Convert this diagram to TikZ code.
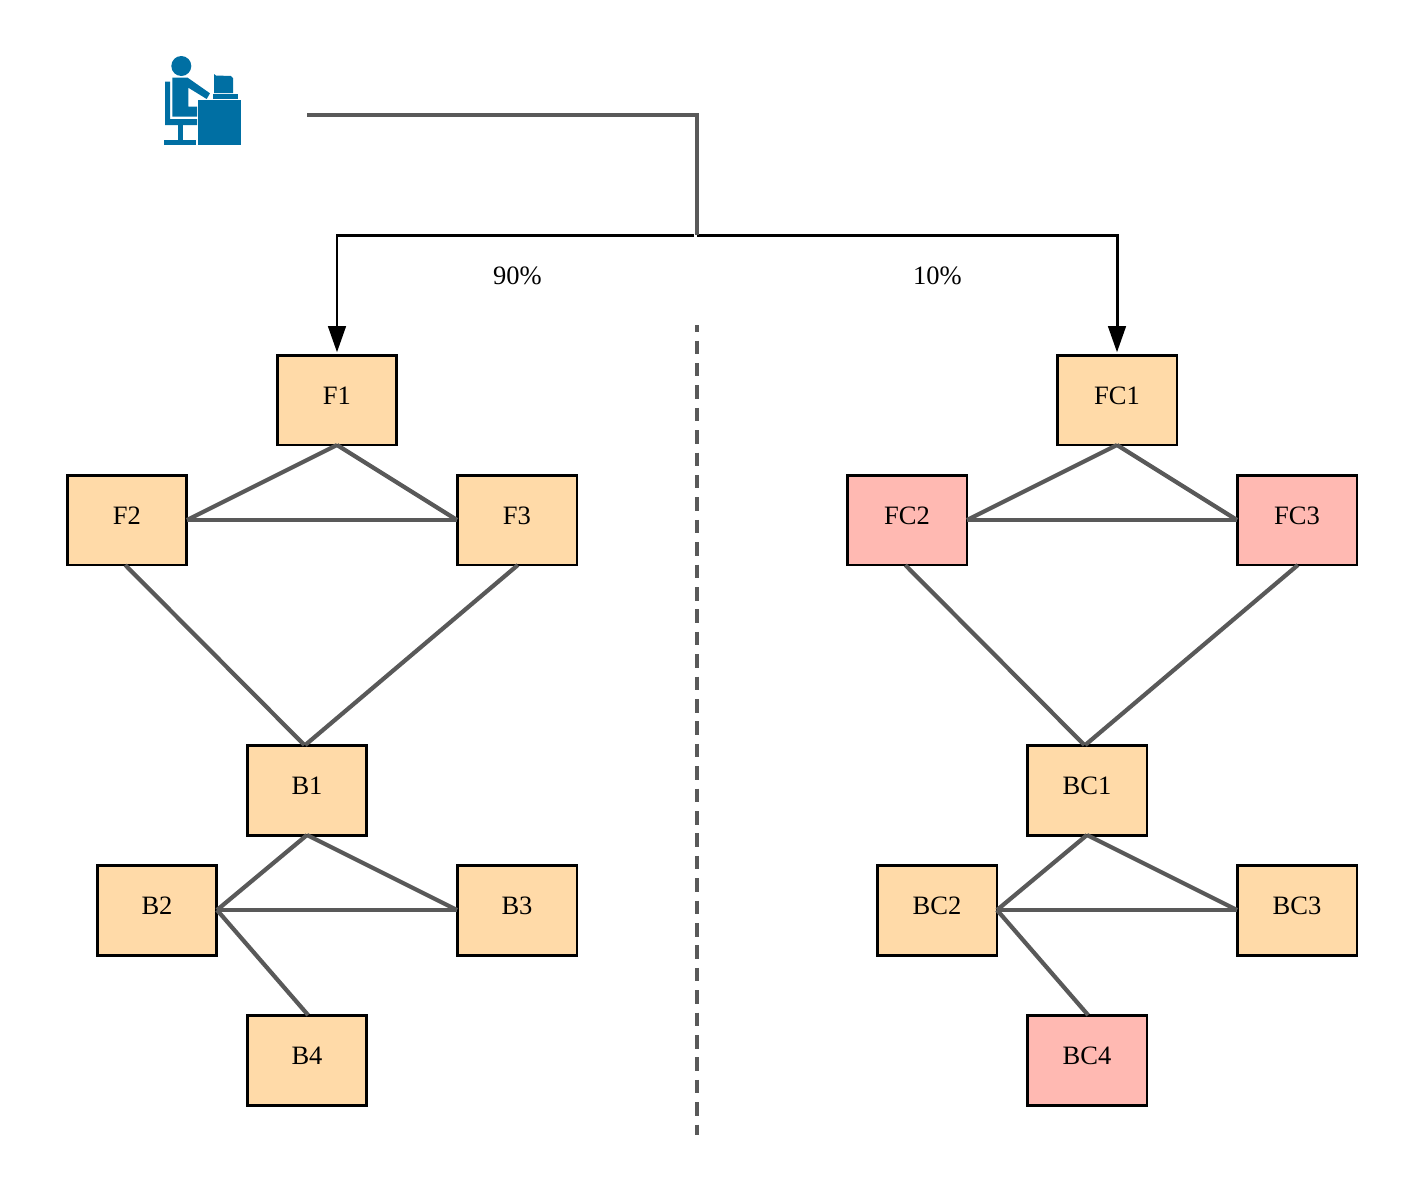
\documentclass[tikz,border=0pt]{standalone}
\usepackage{fontspec}
\setmainfont{Liberation Serif}
\usetikzlibrary{arrows.meta}
\definecolor{boxorange}{HTML}{FFDAA8}
\definecolor{boxpink}{HTML}{FFB9B2}
\definecolor{linegray}{HTML}{595959}
\definecolor{iconblue}{HTML}{006FA3}
\tikzset{
    box/.style={draw=black, line width=1.7pt, minimum width=2.4cm, minimum height=1.8cm, inner sep=0pt, outer sep=0pt,
        font=\fontsize{15.1}{17}\selectfont, text height=10pt, text depth=4.9pt},
    okbox/.style={box, fill=boxorange},
    badbox/.style={box, fill=boxpink},
    link/.style={draw=linegray, line width=2.4pt},
    route/.style={draw=black, line width=1.7pt, -{Triangle[length=15pt, width=10pt]}},
    share/.style={font=\fontsize{15.1}{17}\selectfont},
    icon/.style={fill=iconblue, draw=none}
}
\begin{document}
\begin{tikzpicture}[x=0.02cm, y=-0.02cm]
    \useasboundingbox (0,0) rectangle (1423,1201);
    % user at the desk
    \fill[icon] (181.3,66) circle (10);
    \fill[icon] (165,81.7) -- (170,81.7) -- (170,119) -- (197,119) -- (197,125) -- (165,125) -- cycle;
    \fill[icon] (178,125) rectangle (183,140);
    \fill[icon] (164,140) rectangle (196,145);
    \fill[icon] (172.3,77.7) -- (187.7,77.7) -- (210,93.3) -- (206.7,99) -- (188.3,87.7) -- (188.3,106.7) -- (197,106.7) -- (197,116.7) -- (172.3,116.7) -- cycle;
    \fill[icon] (198,100) rectangle (241,145);
    \fill[icon] (213,94) rectangle (238,99);
    \fill[icon] (214,74) -- (216,75.5) -- (231,76) -- (233,78) -- (233,93) -- (214,93) -- cycle;
    % front and back, stable side
    \foreach \name/\x/\y/\txt in {F1/337/400/F1, F2/127/520/F2, F3/517/520/F3, B1/307/790/B1, B2/157/910/B2, B3/517/910/B3, B4/307/1060/B4, FC1/1117/400/FC1, BC1/1087/790/BC1, BC2/937/910/BC2, BC3/1297/910/BC3} {
        \node[okbox] (\name) at (\x,\y) {\txt};
    }
    % canary boxes in trouble
    \foreach \name/\x/\y/\txt in {FC2/907/520/FC2, FC3/1297/520/FC3, BC4/1087/1060/BC4} {
        \node[badbox] (\name) at (\x,\y) {\txt};
    }
    \foreach \f/\g/\h/\b in {F1/F2/F3/B1, FC1/FC2/FC3/BC1} {
        \draw[link] (\f.south) -- (\g.east);
        \draw[link] (\f.south) -- (\h.west);
        \draw[link] (\g.east) -- (\h.west);
        \draw[link] ([xshift=-1pt]\g.south) -- ([xshift=-1.5pt]\b.north);
        \draw[link] ([xshift=0.5pt]\h.south) -- ([xshift=-1pt]\b.north);
    }
    \foreach \b/\c/\d/\e in {B1/B2/B3/B4, BC1/BC2/BC3/BC4} {
        \draw[link] (\b.south) -- (\c.east);
        \draw[link] (\b.south) -- (\d.west);
        \draw[link] (\c.east) -- (\d.west);
        \draw[link] (\c.east) -- ([xshift=0.6pt]\e.north);
    }
    % traffic split
    \coordinate (user) at (307,115);
    \coordinate (split) at (697,235);
    \coordinate (splitl) at (694,235);
    \draw[route] (splitl) -| ([yshift=1.5pt]F1.north);
    \draw[route] (split) -| ([yshift=1.5pt]FC1.north);
    \draw[link] (user) -| (split);
    \node[share] (left) at (517.5,276) {90\%};
    \node[share] (right) at (937.5,276) {10\%};
    % divider
    \coordinate (top) at (697,325);
    \coordinate (bottom) at (697,1135);
    \draw[link, dash pattern=on 7.65pt off 5.1pt, dash phase=3.85pt] (top) -- (bottom);
\end{tikzpicture}
\end{document}
